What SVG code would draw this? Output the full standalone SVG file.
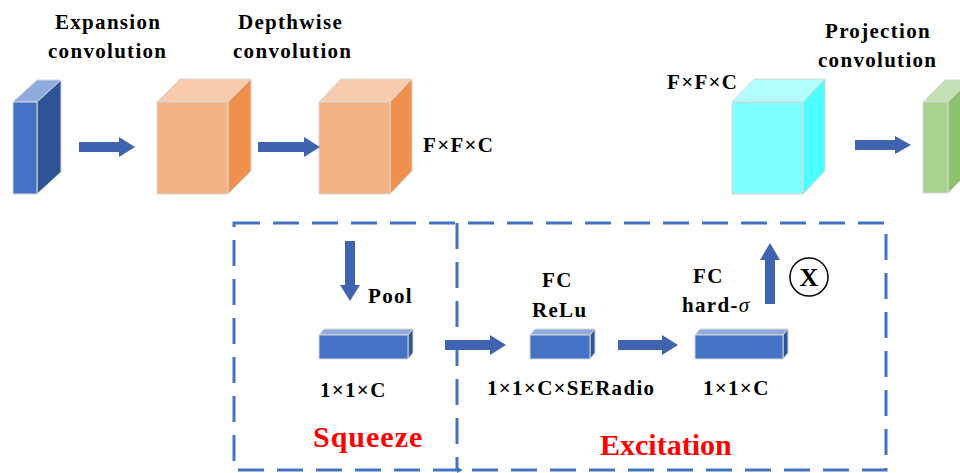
<svg xmlns="http://www.w3.org/2000/svg" width="960" height="473" viewBox="0 0 960 473">
  <style>
    text { font-family: "Liberation Serif", "DejaVu Serif", serif; }
    .lbl { font-weight: 700; font-size: 21px; letter-spacing: 1.3px; fill: #000000; }
    .big { font-weight: 700; font-size: 30px; fill: #FF0000; }
    .edge { stroke: #D6D6D6; stroke-width: 1; stroke-linejoin: round; }
    .arrow { fill: #3F63AE; }
    .dash { fill: none; stroke: #4472C4; stroke-width: 3; stroke-dasharray: 26 13; }
  </style>
  <rect width="960" height="473" fill="#FFFFFF"/>

  <!-- titles -->
  <g id="titles" font-family="Liberation Serif, serif">
    <text class="lbl" x="55" y="29">Expansion</text>
    <text class="lbl" x="48" y="58">convolution</text>
    <text class="lbl" x="238" y="29">Depthwise</text>
    <text class="lbl" x="233" y="58">convolution</text>
    <text class="lbl" x="825" y="38">Projection</text>
    <text class="lbl" x="818" y="67">convolution</text>
  </g>

  <!-- expansion tensor -->
  <g id="expansion" class="edge">
    <polygon points="13,102 37,102 61,80 37,80" fill="#8FAADC"/>
    <polygon points="37,102 61,80 61,172 37,194" fill="#2F5597"/>
    <rect x="13" y="102" width="24" height="92" fill="#4472C4"/>
  </g>

  <!-- depthwise input -->
  <g id="depthwise-in" class="edge">
    <polygon points="157,102 228,102 251,79 180,79" fill="#F8CBAD"/>
    <polygon points="228,102 251,79 251,171 228,194" fill="#EF904C"/>
    <rect x="157" y="102" width="71" height="92" fill="#F4B183"/>
  </g>

  <!-- depthwise output -->
  <g id="depthwise-out" class="edge">
    <polygon points="319,102 390,102 412,79 341,79" fill="#F8CBAD"/>
    <polygon points="390,102 412,79 412,171 390,194" fill="#EF904C"/>
    <rect x="319" y="102" width="71" height="92" fill="#F4B183"/>
    <text class="lbl" x="423" y="152" stroke="none">F×F×C</text>
  </g>

  <!-- reweighted tensor -->
  <g id="scaled" class="edge">
    <polygon points="732,102 803,102 825,79 754,79" fill="#B3FFFF"/>
    <polygon points="803,102 825,79 825,171 803,194" fill="#4DFFFF"/>
    <rect x="732" y="102" width="71" height="92" fill="#7FFFFF"/>
    <text class="lbl" x="667" y="89" stroke="none">F×F×C</text>
  </g>

  <!-- projection output -->
  <g id="projection" class="edge">
    <polygon points="923,102 948,102 970,80 945,80" fill="#C5E0B4"/>
    <polygon points="948,102 970,80 970,171 948,193" fill="#8CC26C"/>
    <rect x="923" y="102" width="25" height="91" fill="#A9D18E"/>
  </g>

  <!-- squeeze vector -->
  <g id="squeeze-vec" class="edge">
    <polygon points="319,335 408,335 413,329 324,329" fill="#8FAADC"/>
    <polygon points="408,335 413,329 413,353 408,359" fill="#2F5597"/>
    <rect x="319" y="335" width="89" height="24" fill="#4472C4"/>
    <text class="lbl" x="368" y="303" stroke="none">Pool</text>
    <text class="lbl" x="320" y="397" stroke="none">1×1×C</text>
  </g>

  <!-- FC + ReLU vector -->
  <g id="fc-relu" class="edge">
    <polygon points="530,335 590,335 595,329 535,329" fill="#8FAADC"/>
    <polygon points="590,335 595,329 595,353 590,359" fill="#2F5597"/>
    <rect x="530" y="335" width="60" height="24" fill="#4472C4"/>
    <text class="lbl" x="542" y="287" stroke="none">FC</text>
    <text class="lbl" x="532" y="317" stroke="none">ReLu</text>
    <text class="lbl" x="487" y="395" stroke="none">1×1×C×SERadio</text>
  </g>

  <!-- FC + hard sigmoid vector -->
  <g id="fc-hsigmoid" class="edge">
    <polygon points="695,335 783,335 788,329 700,329" fill="#8FAADC"/>
    <polygon points="783,335 788,329 788,353 783,359" fill="#2F5597"/>
    <rect x="695" y="335" width="88" height="24" fill="#4472C4"/>
    <text class="lbl" x="693" y="283" stroke="none">FC</text>
    <text class="lbl" x="682" y="312" stroke="none">hard-<tspan font-style="italic" font-weight="400">σ</tspan></text>
    <text class="lbl" x="703" y="395" stroke="none">1×1×C</text>
  </g>

  <!-- multiply -->
  <g id="multiply">
    <circle cx="809" cy="277" r="19" fill="#FFFFFF" stroke="#000000" stroke-width="1.5"/>
    <text x="809" y="286" text-anchor="middle" font-weight="700" font-size="26">X</text>
  </g>

  <!-- SE block frame -->
  <g id="se-frame">
    <rect class="dash" x="234" y="223" width="652" height="247"/>
    <line class="dash" x1="457" y1="223" x2="457" y2="470"/>
    <polygon points="457,467 463,470 457,473" fill="#4472C4"/>
    <text class="big" x="313" y="447" letter-spacing="1">Squeeze</text>
    <text class="big" x="600" y="455">Excitation</text>
  </g>

  <!-- connectors -->
  <g id="connectors" class="arrow">
    <polygon points="79,142 119,142 119,137 135,147 119,157 119,152 79,152"/>
    <polygon points="258,142 304,142 304,137 320,147 304,157 304,152 258,152"/>
    <polygon points="855,140 895,140 895,136 911,145 895,154 895,150 855,150"/>
    <polygon points="345,241 355,241 355,285 360,285 350,301 340,285 345,285"/>
    <polygon points="445,340 490,340 490,335 506,345 490,355 490,350 445,350"/>
    <polygon points="618,340 662,340 662,335 678,345 662,355 662,350 618,350"/>
    <polygon points="765,304 775,304 775,260 780,260 770,243 760,260 765,260"/>
  </g>
</svg>
